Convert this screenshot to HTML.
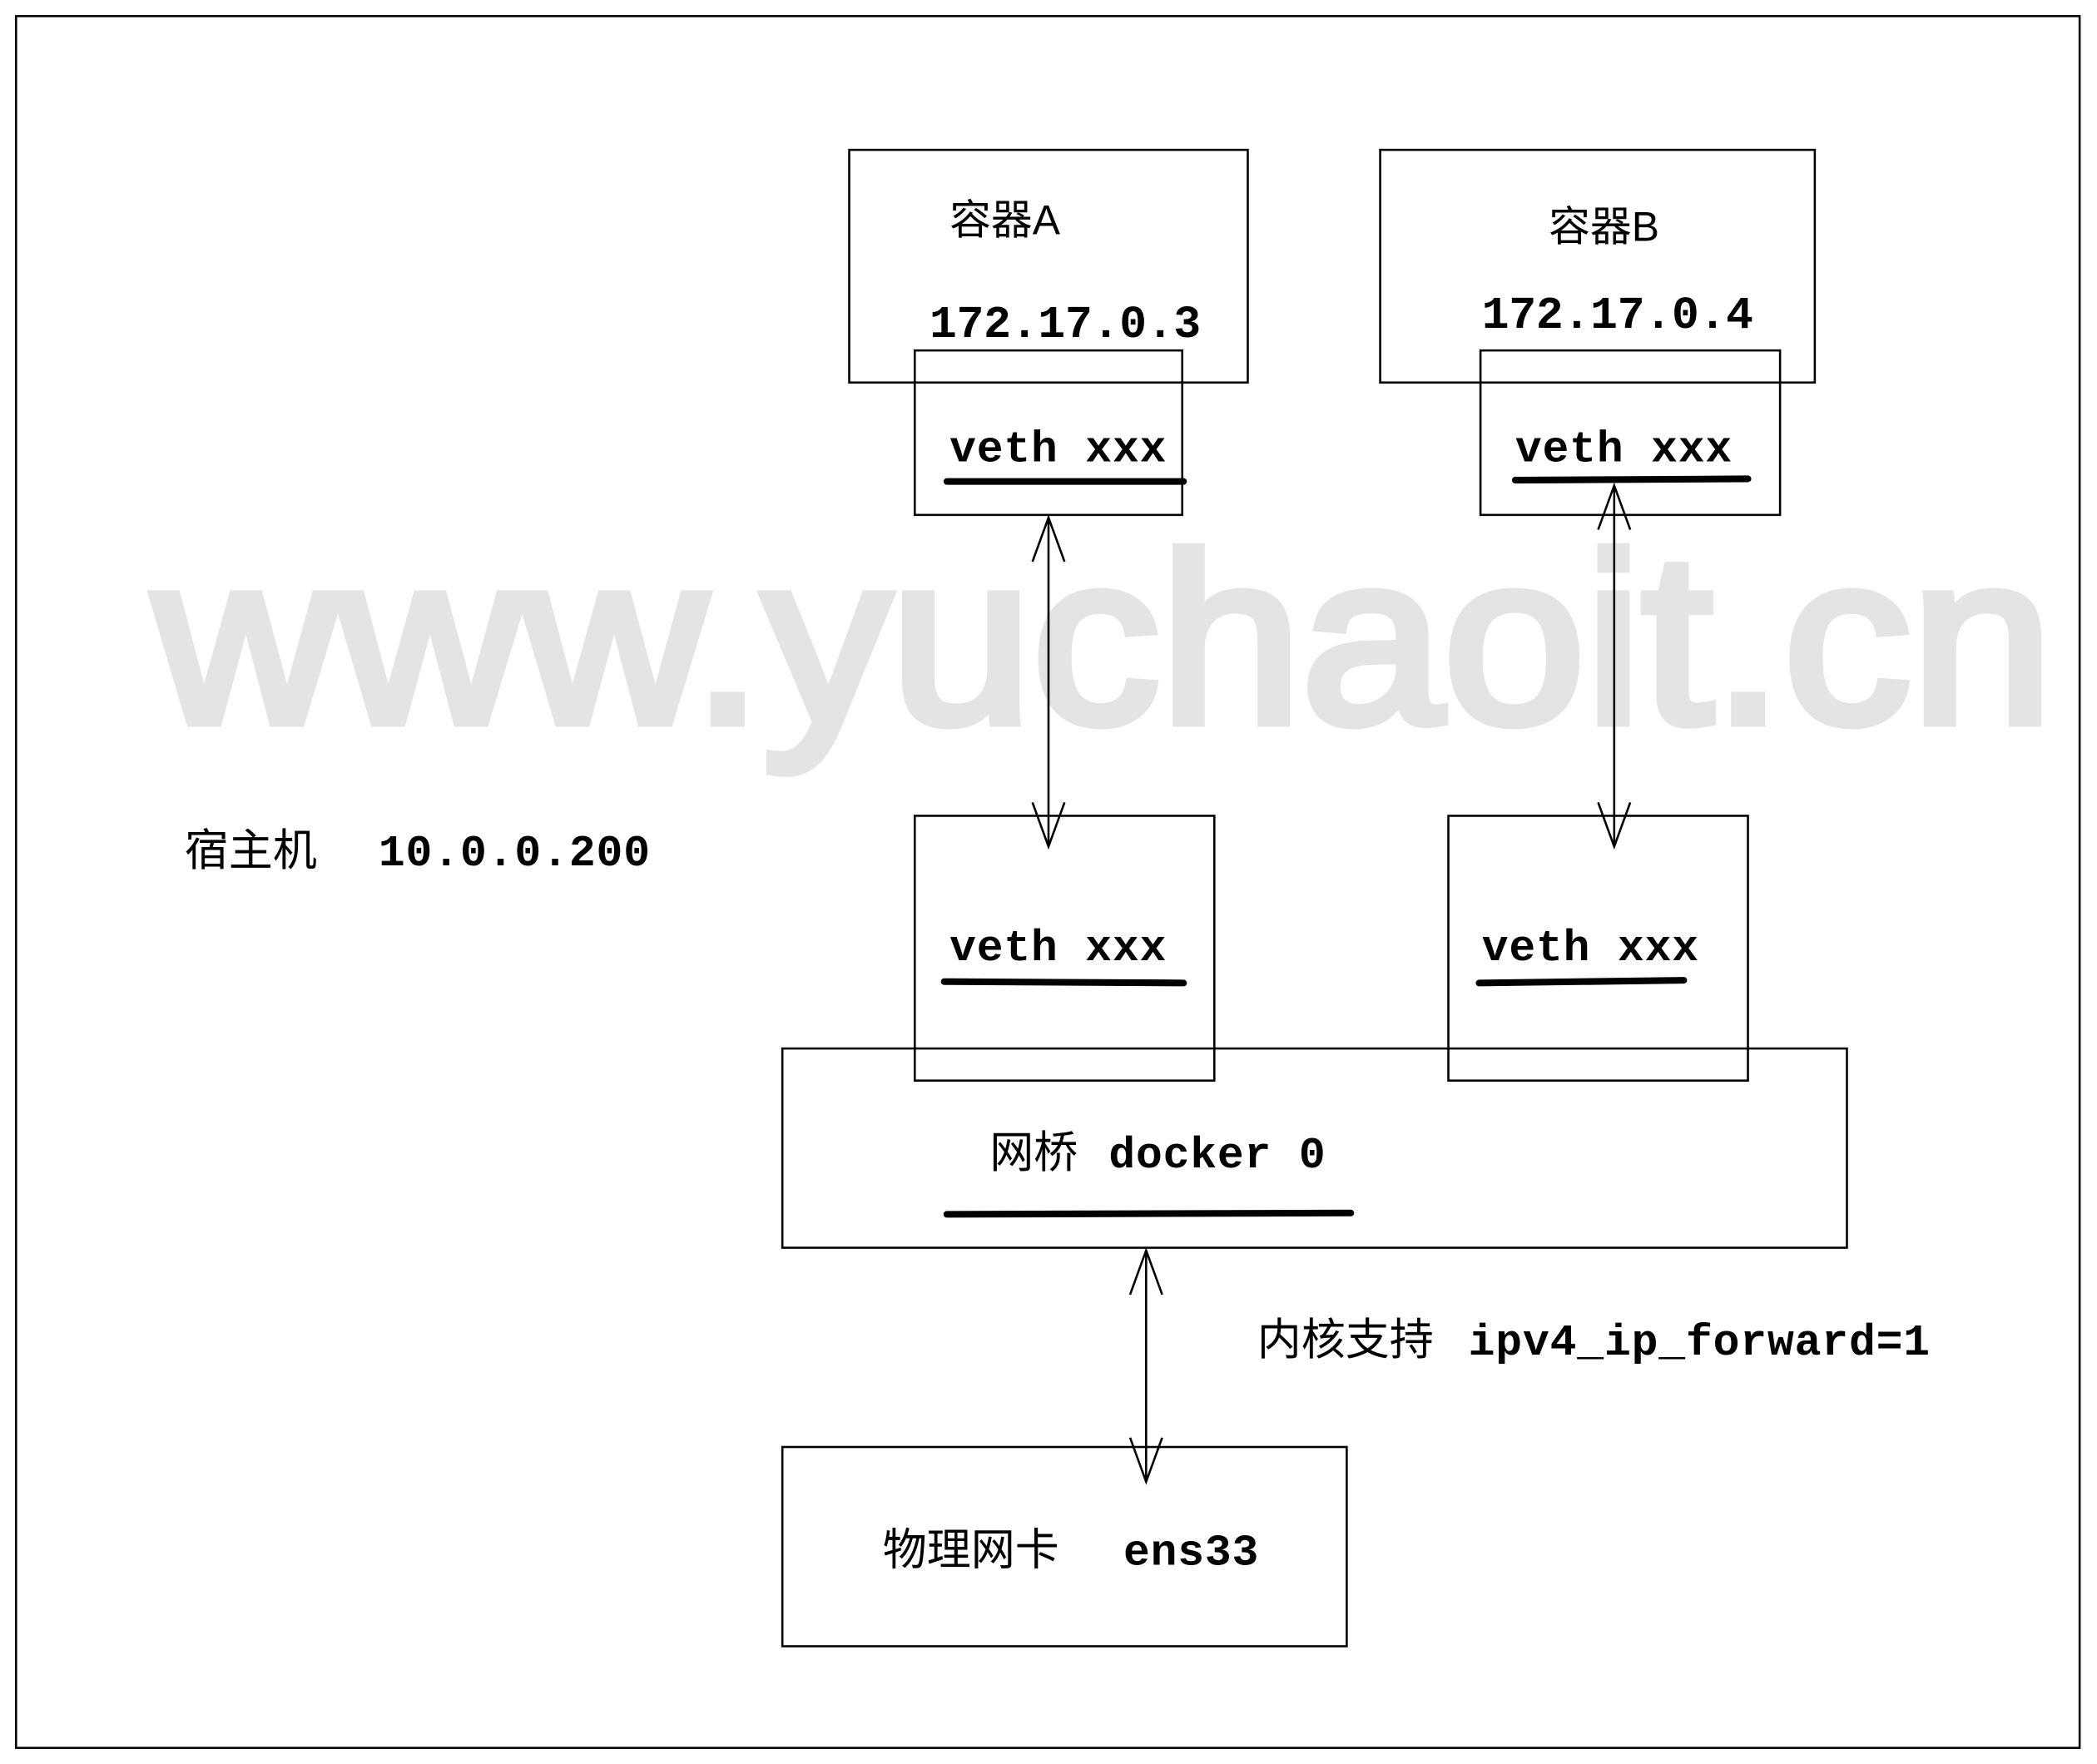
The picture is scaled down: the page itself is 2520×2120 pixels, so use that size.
<!DOCTYPE html>
<html><head><meta charset="utf-8"><style>
html,body{margin:0;padding:0;background:#fff;}
svg{display:block;}
text{font-family:"Liberation Mono","Noto Sans CJK SC",monospace;font-weight:bold;fill:#000;white-space:pre;}
.cjk{font-family:"Liberation Sans","Noto Sans CJK SC",sans-serif;font-weight:normal;}
</style></head><body>
<svg width="2520" height="2120" viewBox="0 0 1568 1319" xmlns="http://www.w3.org/2000/svg">
<rect x="0" y="0" width="1568" height="1319" fill="#fff"/>
<text x="115" y="540" font-size="180" style="font-family:'Liberation Sans',sans-serif;font-weight:normal;fill:#e4e4e4;stroke:#e4e4e4;stroke-width:7;" textLength="1420" lengthAdjust="spacingAndGlyphs">www.yuchaoit.cn</text>
<g fill="none" stroke="#000" stroke-width="1.6">
<rect x="12" y="12" width="1543" height="1295"/>
<rect x="635" y="112" width="298" height="174"/>
<rect x="684" y="262" width="200" height="123"/>
<rect x="1032" y="112" width="325" height="174"/>
<rect x="1107" y="262" width="224" height="123"/>
<rect x="684" y="610" width="224" height="198"/>
<rect x="1083" y="610" width="224" height="198"/>
<rect x="585" y="784" width="796" height="149"/>
<rect x="585" y="1082" width="422" height="149"/>
<line x1="784" y1="387" x2="784" y2="633"/>
<polyline points="772,420 784,387 796,420"/><polyline points="772,600 784,633 796,600"/>
<line x1="1207" y1="363" x2="1207" y2="633"/>
<polyline points="1195,396 1207,363 1219,396"/><polyline points="1195,600 1207,633 1219,600"/>
<line x1="857" y1="935" x2="857" y2="1108"/>
<polyline points="845,968 857,935 869,968"/><polyline points="845,1075 857,1108 869,1075"/>
</g>
<g stroke="#000" stroke-width="5" stroke-linecap="round">
<line x1="708" y1="360" x2="885" y2="360"/>
<line x1="1133" y1="359" x2="1307" y2="358"/>
<line x1="706" y1="734" x2="885" y2="735"/>
<line x1="1106" y1="735" x2="1259" y2="733"/>
<line x1="708" y1="908" x2="1010" y2="907"/>
</g>
<text class="cjk" x="710" y="175" font-size="31">容器A</text>
<text x="695" y="252" font-size="34" textLength="203">172.17.0.3</text>
<text class="cjk" x="1158" y="180" font-size="31">容器B</text>
<text x="1108" y="245" font-size="34" textLength="203">172.17.0.4</text>
<text x="710" y="345" font-size="33" textLength="162">veth xxx</text>
<text x="1133" y="345" font-size="33" textLength="162">veth xxx</text>
<text x="710" y="718" font-size="33" textLength="162">veth xxx</text>
<text x="1108" y="718" font-size="33" textLength="162">veth xxx</text>
<text class="cjk" x="740" y="873" font-size="33">网桥</text>
<text x="829" y="873" font-size="33" textLength="162">docker 0</text>
<text class="cjk" x="940" y="1013" font-size="33">内核支持</text>
<text x="1098" y="1013" font-size="33" textLength="345">ipv4_ip_forward=1</text>
<text class="cjk" x="660" y="1170" font-size="33">物理网卡</text>
<text x="840" y="1170" font-size="33" textLength="101">ens33</text>
<text class="cjk" x="138" y="647" font-size="33">宿主机</text>
<text x="283" y="647" font-size="33" textLength="203">10.0.0.200</text>
</svg>
</body></html>
